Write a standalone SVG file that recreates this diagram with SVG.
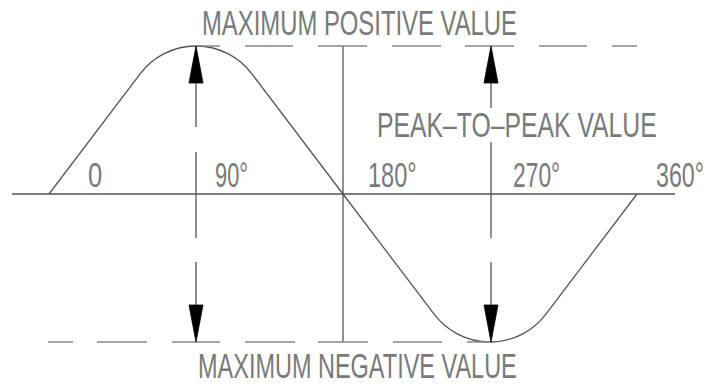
<svg xmlns="http://www.w3.org/2000/svg" width="711" height="385" viewBox="0 0 711 385">
<style>
.ln{fill:none;stroke:#555;stroke-width:1.3}
.dl{fill:none;stroke:#888;stroke-width:1.5}
.ah{fill:#000;stroke:#000;stroke-width:0.8}
.tx{font-family:"Liberation Sans Narrow","Liberation Sans",Arial,sans-serif;font-size:35.5px;fill:#7a7a7a;font-weight:normal}
</style>
<rect width="711" height="385" fill="#fff"/>
<g id="connectors">
<line id="axis" class="ln" x1="12" y1="194" x2="675" y2="194"/>
<path id="wave" class="ln" d="M49,194 L140.1,73.8 A70.1,70.1 0 0 1 251.9,73.8 L343,194 L434.1,314.2 A70.1,70.1 0 0 0 545.9,314.2 L637,194"/>
<line id="mid" class="ln" x1="343" y1="46" x2="343" y2="342"/>
<line id="topdash" class="dl" x1="195" y1="46" x2="638" y2="46" stroke-dasharray="25 25 48 25 49 25 49 24 49 25 48 25 25"/>
<line id="botdash" class="dl" x1="48" y1="342" x2="491" y2="342" stroke-dasharray="25 24 50 25 48 25 50 23 50 25 49 25 25"/>
<path id="arrowL" class="ln" d="M196,80 V127 M196,152 V238 M196,262 V306"/>
<path class="ah" d="M196,46 L189,83 L203,83 Z"/>
<path class="ah" d="M196,342 L189,305 L203,305 Z"/>
<path id="arrowR" class="ln" d="M491,80 V108 M491,142 V238 M491,262 V306"/>
<path class="ah" d="M491,46 L484,83 L498,83 Z"/>
<path class="ah" d="M491,342 L484,305 L498,305 Z"/>
</g>
<g id="label-max-pos" transform="translate(202,35) scale(0.75,1)"><text class="tx" x="0" y="0" textLength="420" lengthAdjust="spacingAndGlyphs">MAXIMUM  POSITIVE  VALUE</text></g>
<g id="label-p2p" transform="translate(377,137) scale(0.75,1)"><text class="tx" x="0" y="0" textLength="373" lengthAdjust="spacingAndGlyphs">PEAK–TO–PEAK  VALUE</text></g>
<g id="label-max-neg" transform="translate(198,377.5) scale(0.75,1)"><text class="tx" x="0" y="0" textLength="425" lengthAdjust="spacingAndGlyphs">MAXIMUM  NEGATIVE  VALUE</text></g>
<g id="deg-0" transform="translate(88,187) scale(0.75,1)"><text class="tx" x="0" y="0" textLength="19" lengthAdjust="spacingAndGlyphs">0</text></g>
<g id="deg-90" transform="translate(215,187) scale(0.75,1)"><text class="tx" x="0" y="0" textLength="44" lengthAdjust="spacingAndGlyphs">90°</text></g>
<g id="deg-180" transform="translate(368,187) scale(0.75,1)"><text class="tx" x="0" y="0" textLength="65" lengthAdjust="spacingAndGlyphs">180°</text></g>
<g id="deg-270" transform="translate(513,187) scale(0.75,1)"><text class="tx" x="0" y="0" textLength="63" lengthAdjust="spacingAndGlyphs">270°</text></g>
<g id="deg-360" transform="translate(656,187) scale(0.75,1)"><text class="tx" x="0" y="0" textLength="64" lengthAdjust="spacingAndGlyphs">360°</text></g>
</svg>
